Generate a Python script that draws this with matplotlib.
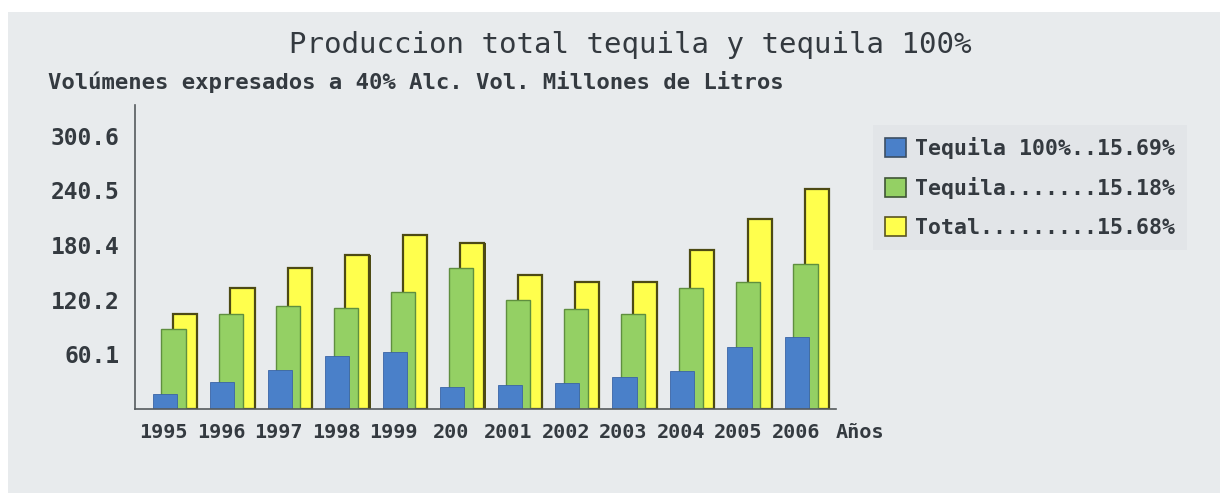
import matplotlib
matplotlib.use("Agg")
import matplotlib.pyplot as plt
from matplotlib.patches import Rectangle, Patch
import numpy as np

# Production data (millions of litres, 40% Alc. Vol.)
years = ["1995", "1996", "1997", "1998", "1999", "200", "2001", "2002",
         "2003", "2004", "2005", "2006"]
tequila_100 = [16.2, 29.4, 42.9, 58.3, 62.4, 24.5, 26.4, 28.9, 35.6, 42.2, 68.6, 79.6]
tequila = [88.4, 104.2, 113.4, 110.8, 128.8, 155.5, 120.0, 110.0, 104.2, 132.9, 139.5, 159.6]
total = [104.2, 133.5, 155.5, 169.5, 191.5, 182.4, 147.5, 140.1, 140.1, 175.0, 208.8, 241.8]

y_ticks = [60.1, 120.2, 180.4, 240.5, 300.6]
y_tick_labels = ["60.1", "120.2", "180.4", "240.5", "300.6"]

legend_labels = ["Tequila 100%..15.69%", "Tequila.......15.18%", "Total.........15.68%"]

title = "Produccion total tequila y tequila 100%"
subtitle = "Volúmenes expresados a 40% Alc. Vol. Millones de Litros"
x_label = "Años"

BLUE, BLUE_EDGE = "#4a80c9", "#3a64a6"
GREEN, GREEN_EDGE = "#94d064", "#5f8f3f"
YELLOW, YELLOW_EDGE = "#ffff4d", "#4d4a14"
TEXT = "#343a40"
PANEL = "#e8ebed"
MONO = "DejaVu Sans Mono"

W, H = 1228, 493
fig = plt.figure(figsize=(W / 100, H / 100), dpi=100, facecolor="white")

# light grey panel behind the chart
fig.patches.append(Rectangle((8 / W, 0), (1220 - 8) / W, (H - 12) / H,
                             transform=fig.transFigure, facecolor=PANEL,
                             edgecolor="none", zorder=-10))

ax = fig.add_axes([135 / W, 84 / H, 701 / W, 304 / H])
ax.set_zorder(2)
ax.set_facecolor("none")

x = np.arange(len(years))
bw = 0.42
# dark drop shadow on the right of the total bars
ax.bar(x + 0.39, total, width=bw, color=YELLOW_EDGE, linewidth=0, zorder=1)
ax.bar(x + 0.37, total, width=bw, color=YELLOW, edgecolor=YELLOW_EDGE,
       linewidth=1.6, zorder=2)
ax.bar(x + 0.17, tequila, width=bw, color=GREEN, edgecolor=GREEN_EDGE,
       linewidth=1.0, zorder=3)
ax.bar(x + 0.02, tequila_100, width=bw, color=BLUE, edgecolor=BLUE_EDGE,
       linewidth=0.6, zorder=4)

ax.set_xlim(-0.5, 11.7)
ax.set_ylim(0, 334.6)

for s in ["top", "right"]:
    ax.spines[s].set_visible(False)
for s in ["left", "bottom"]:
    ax.spines[s].set_color("#555a5e")
    ax.spines[s].set_linewidth(1.2)
    ax.spines[s].set_zorder(5)

ax.set_xticks(x)
ax.set_xticklabels(years, fontfamily=MONO, fontweight="bold", fontsize=14.5,
                   color=TEXT)
ax.set_yticks(y_ticks)
ax.set_yticklabels(y_tick_labels, fontfamily=MONO, fontweight="bold",
                   fontsize=16.5, color=TEXT)
ax.tick_params(axis="both", length=0)
ax.tick_params(axis="x", pad=10)
ax.tick_params(axis="y", pad=11)

fig.text(860 / W, 1 - 432 / H, x_label, ha="center", va="center",
         fontfamily=MONO, fontweight="bold", fontsize=14.5, color=TEXT)

fig.text(630 / W, 1 - 45 / H, title, ha="center", va="center",
         fontfamily=MONO, fontsize=21, color=TEXT)
fig.text(48 / W, 1 - 82 / H, subtitle, ha="left", va="center",
         fontfamily=MONO, fontweight="bold", fontsize=16, color=TEXT)

handles = [
    Patch(facecolor=BLUE, edgecolor="#3d4f63", linewidth=1.2),
    Patch(facecolor=GREEN, edgecolor="#3f5536", linewidth=1.2),
    Patch(facecolor=YELLOW, edgecolor="#5a5420", linewidth=1.2),
]
leg = fig.legend(handles, legend_labels, loc="upper left",
                 bbox_to_anchor=(862 / W, 1 - 114 / H),
                 prop={"family": MONO, "weight": "bold", "size": 15.5},
                 handlelength=1.0, handleheight=1.0, handletextpad=0.4,
                 labelspacing=0.85, borderpad=0.55, frameon=True,
                 fancybox=False)
leg.get_frame().set_facecolor("#e1e4e7")
leg.get_frame().set_edgecolor("none")
for t in leg.get_texts():
    t.set_color(TEXT)

fig.savefig("out.png", dpi=100, facecolor=fig.get_facecolor())
